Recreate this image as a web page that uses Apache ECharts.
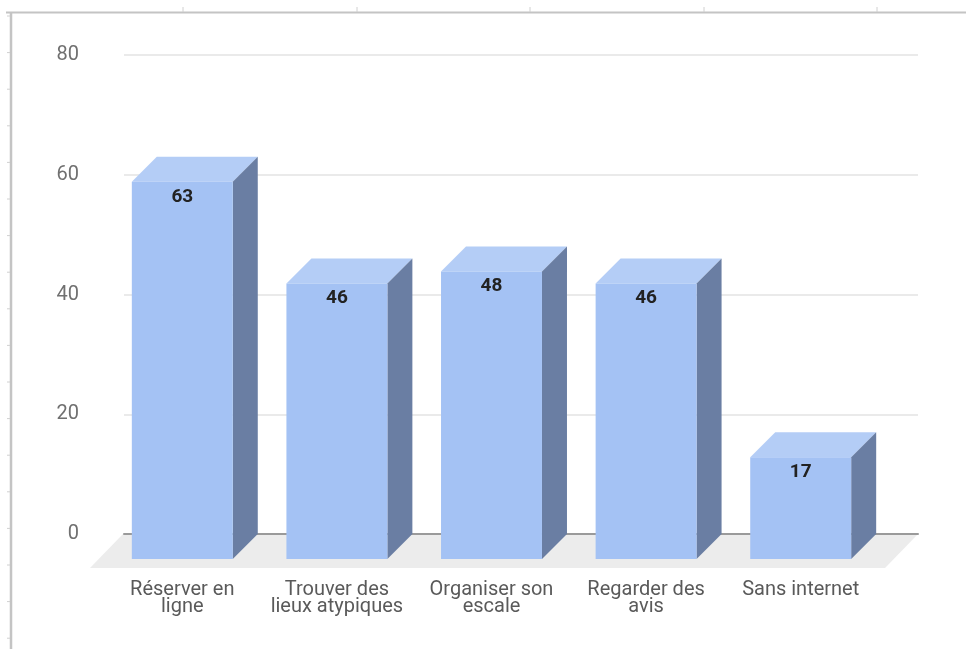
<!DOCTYPE html>
<html>
<head>
<meta charset="utf-8">
<script src="https://cdn.jsdelivr.net/npm/echarts@6/dist/echarts.min.js"></script>
<style>
  html, body { margin: 0; padding: 0; background: #ffffff; }
  #chart { width: 966px; height: 649px; }
</style>
</head>
<body>
<div id="chart"></div>
<script>
// Categories and values
var categories = ['Réserver en\nligne', 'Trouver des\nlieux atypiques', 'Organiser son\nescale', 'Regarder des\navis', 'Sans internet'];
var values = [63, 46, 48, 46, 17];
var yTicks = [0, 20, 40, 60, 80];

// Pseudo-3D styling
var DEPTH = 25;
var FRONT = '#a4c2f4';
var TOP = '#b4cdf6';
var SIDE = '#6a7ea3';
var FONT = 'Roboto, "Noto Sans", sans-serif';

var chart = echarts.init(document.getElementById('chart'), null, { renderer: 'canvas' });

function renderBar(params, api) {
  var i = api.value(0);
  var v = api.value(1);
  var base = api.coord([i, 0]);
  var top = api.coord([i, v]);
  var w = api.size([1, 0])[0] * 0.653;
  var xl = base[0] - w / 2, xr = base[0] + w / 2;
  var d = DEPTH;
  return {
    type: 'group',
    children: [
      { type: 'polygon', shape: { points: [[xl, top[1]], [xl + d, top[1] - d], [xr + d, top[1] - d], [xr, top[1]]] }, style: { fill: TOP } },
      { type: 'polygon', shape: { points: [[xr, top[1]], [xr + d, top[1] - d], [xr + d, base[1] - d], [xr, base[1]]] }, style: { fill: SIDE } },
      { type: 'rect', shape: { x: xl, y: top[1], width: w, height: base[1] - top[1] }, style: { fill: FRONT } },
      { type: 'text', x: base[0], y: top[1] + 15, style: { text: String(v), fill: '#222222', font: 'bold 19px ' + FONT, align: 'center', verticalAlign: 'middle' } }
    ]
  };
}

var option = {
  backgroundColor: '#ffffff',
  animation: false,
  grid: [
    { left: 124, right: 48, top: 55, bottom: 115 },
    { left: 105, right: 88, top: 80, bottom: 90 }
  ],
  xAxis: [
    { gridIndex: 0, type: 'category', data: categories, axisLabel: { show: false }, axisTick: { show: false },
      axisLine: { show: true, lineStyle: { color: '#9a9a9a', width: 2 } }, z: 3 },
    { gridIndex: 1, type: 'category', data: categories, axisTick: { show: false }, axisLine: { show: false },
      axisLabel: { interval: 0, hideOverlap: false, margin: 22, color: '#5a5a5a', fontSize: 20, lineHeight: 17, fontFamily: FONT } }
  ],
  yAxis: [
    { gridIndex: 0, type: 'value', min: yTicks[0], max: yTicks[yTicks.length - 1], interval: 20,
      axisLine: { show: false }, axisTick: { show: false },
      axisLabel: { margin: 45, color: '#707070', fontSize: 20, fontFamily: FONT },
      splitLine: { lineStyle: { color: '#e3e3e3', width: 1.5 } } },
    { gridIndex: 1, type: 'value', min: yTicks[0], max: yTicks[yTicks.length - 1], interval: 20, show: false, splitLine: { show: false } }
  ],
  graphic: [
    // floor
    { type: 'polygon', z: 1, shape: { points: [[123, 534], [918, 534], [885, 568], [90, 568]] }, style: { fill: '#ececec' } },
    // frame
    { type: 'line', z: 10, shape: { x1: 6, y1: 12.5, x2: 966, y2: 12.5 }, style: { stroke: '#c4c4c4', lineWidth: 2 } },
    { type: 'line', z: 10, shape: { x1: 11, y1: 12, x2: 11, y2: 649 }, style: { stroke: '#c4c4c4', lineWidth: 2.5 } }
  ],
  series: [
    { type: 'custom', xAxisIndex: 1, yAxisIndex: 1, z: 5,
      data: values.map(function (v, i) { return [i, v]; }),
      renderItem: renderBar }
  ]
};

// ruler ticks on the frame
[183, 357, 530, 704, 877].forEach(function (x) {
  option.graphic.push({ type: 'line', z: 10, shape: { x1: x, y1: 7, x2: x, y2: 12 }, style: { stroke: '#d0d0d0', lineWidth: 1 } });
});
for (var ty = 16; ty < 649; ty += 36.6) {
  option.graphic.push({ type: 'line', z: 10, shape: { x1: 7, y1: ty, x2: 10, y2: ty }, style: { stroke: '#d0d0d0', lineWidth: 1 } });
}

chart.setOption(option);
</script>
</body>
</html>
